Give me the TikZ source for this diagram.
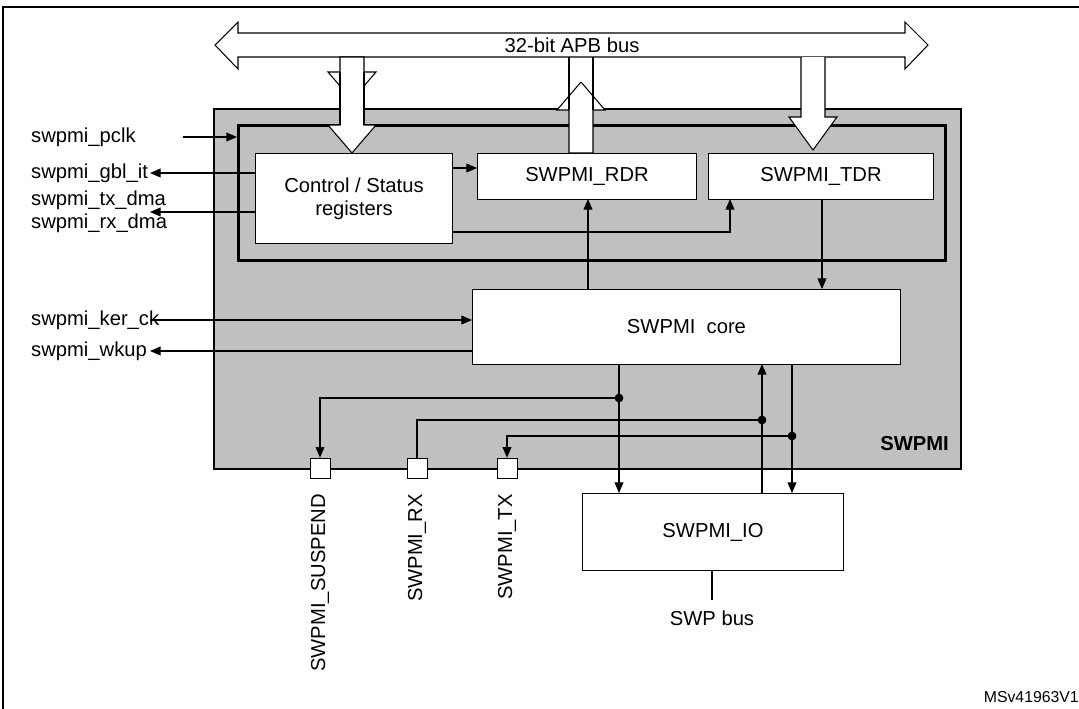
\documentclass[tikz,border=0pt]{standalone}
\usepackage{fontspec}
\setmainfont{Liberation Sans}
\usetikzlibrary{arrows.meta,positioning,calc}
\definecolor{swgray}{RGB}{192,192,192}

\begin{document}
\begin{tikzpicture}[
    x=0.02cm, y=-0.02cm,
    font=\fontsize{11.5}{13}\selectfont,
    block/.style={rectangle, draw, fill=white, line width=0.6pt},
    pad/.style={rectangle, draw, fill=white, minimum size=0.4cm, inner sep=0pt},
    sig/.style={-{Triangle[length=6pt,width=5pt]}, line width=0.6pt},
    wire/.style={line width=0.6pt},
    fatarrow/.style={draw, fill=white, line width=0.6pt},
    dot/.style={circle, fill, inner sep=0pt, minimum size=5pt}
]
\useasboundingbox (0,0) rectangle (1079,708);

% Frame
\draw[line width=1pt] (3,712) -- (3,7) -- (1085,7);

% SWPMI block
\node[draw, fill=swgray, line width=1.2pt, minimum width=14.94cm, minimum height=7.2cm, anchor=north west] (swpmi) at (213,108) {};
\node[draw, line width=1.6pt, minimum width=14.14cm, minimum height=2.7cm, anchor=north west] (regs) at (237,124) {};
\node[anchor=south east, font=\fontsize{11.5}{13}\selectfont\bfseries] (swlbl) at (955,457) {SWPMI};

% Boxes
\node[block, minimum width=3.94cm, minimum height=1.8cm, anchor=north west, align=center] (ctrl) at (255,153) {Control / Status\\registers};
\node[block, minimum width=4.38cm, minimum height=0.92cm, anchor=north west] (rdr) at (477,153) {SWPMI\_RDR};
\node[block, minimum width=4.5cm, minimum height=0.92cm, anchor=north west] (tdr) at (708,153) {SWPMI\_TDR};
\node[block, minimum width=8.56cm, minimum height=1.5cm, anchor=north west] (core) at (472,289) {SWPMI\ \ core};
\node[block, minimum width=5.22cm, minimum height=1.54cm, anchor=north west] (io) at (582,493) {SWPMI\_IO};

% APB bus
\draw[fatarrow] (215,45) -- (238,22) -- (238,33) -- (905,33) -- (905,22) -- (928,45)
  -- (905,69) -- (905,57) -- (825,57) -- (825,57) -- (801,57) -- (593,57) -- (569,57)
  -- (364,57) -- (340,57) -- (238,57) -- (238,69) -- cycle;
\node (bus) at (572,45) {32-bit APB bus};
\draw[fatarrow] (340,57) -- (364,57) -- (364,72) -- (376,72) -- (352,100) -- (328,72) -- (340,72) -- cycle;
\draw[fatarrow] (340,100) -- (364,100) -- (364,125) -- (376,125) -- (352,153) -- (328,125) -- (340,125) -- cycle;
\fill[white] (341,58) rectangle (363,125);
\draw[line width=0.6pt] (340,72) -- (340,125) (364,72) -- (364,125);
\draw[fatarrow] (569,153) -- (569,110) -- (557,110) -- (581,82) -- (605,110) -- (593,110) -- (593,153) -- cycle;
\draw[fatarrow] (801,57) -- (801,117) -- (789,117) -- (813,150) -- (837,117) -- (825,117) -- (825,57);
\fill[white] (570,82) rectangle (592,57.5);
\draw[line width=0.6pt] (569,57) -- (569,110) (593,57) -- (593,110);
\fill[white] (802,57.5) rectangle (824,117);

% Left signals
\node[anchor=west] (pclk) at (25,137) {swpmi\_pclk};
\node[anchor=west] (gbl) at (25,173) {swpmi\_gbl\_it};
\node[anchor=west, align=left] (dma) at (25,212) {swpmi\_tx\_dma\\swpmi\_rx\_dma};
\node[anchor=west] (kerck) at (25,320) {swpmi\_ker\_ck};
\node[anchor=west] (wkup) at (25,351) {swpmi\_wkup};
\draw[sig] (183,137) -- (regs.west |- 0,137);
\draw[sig] (ctrl.west |- 0,173) -- (150,173);
\draw[sig] (ctrl.west |- 0,212) -- (150,212);
\draw[sig] (150,320) -- (core.west |- 0,320);
\draw[sig] (core.west |- 0,351) -- (150,351);

% Internal connections
\draw[sig] (ctrl.east |- 0,168) -- (rdr.west |- 0,168);
\draw[sig] (ctrl.east |- 0,232) -- (730,232) -- (730,199);
\draw[sig] (core.north -| 588,0) -- (588,199);
\draw[sig] (tdr.south -| 822,0) -- (822,289);

% Pads
\node[pad] (susp) at (320,468) {};
\node[pad] (rx) at (417,468) {};
\node[pad] (tx) at (507,468) {};
\node[rotate=90, anchor=east] (susplbl) at (320,488) {SWPMI\_SUSPEND};
\node[rotate=90, anchor=east] (rxlbl) at (417,488) {SWPMI\_RX};
\node[rotate=90, anchor=east] (txlbl) at (507,488) {SWPMI\_TX};

% Core to IO
\coordinate (d1) at (619,398);
\coordinate (d2) at (762,420);
\coordinate (d3) at (792,436);
\draw[sig] (619,364) -- (619,493);
\draw[sig] (762,493) -- (762,364);
\draw[sig] (792,364) -- (792,493);
\draw[sig] (d1) -- (susp.north |- d1) -- (susp.north);
\draw[wire] (rx.north) -- (rx.north |- d2) -- (d2);
\draw[sig] (d3) -- (tx.north |- d3) -- (tx.north);
\node[dot] at (d1) {};
\node[dot] at (d2) {};
\node[dot] at (d3) {};

% SWP bus
\draw[wire] (io.south -| 712,0) -- (712,600);
\node (swp) at (712,618) {SWP bus};

\node[anchor=east, font=\fontsize{9}{10}\selectfont] (ref) at (1085,697) {MSv41963V1};
\end{tikzpicture}
\end{document}
